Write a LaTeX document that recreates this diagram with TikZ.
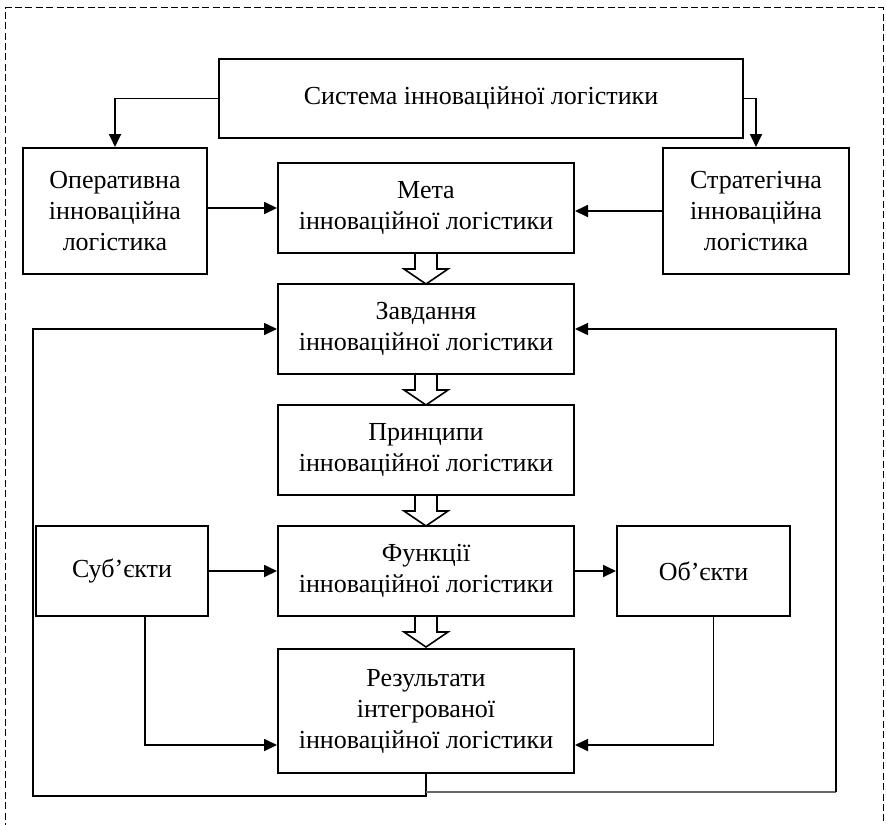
\documentclass[tikz,border=0pt]{standalone}
\usepackage{fontspec}
\setmainfont{Liberation Serif}
\usepackage{tikz}
\usetikzlibrary{arrows.meta,positioning,calc}
\tikzset{
  box/.style={draw,line width=1pt,align=center,inner sep=0pt,font=\fontsize{13}{15.5}\selectfont},
  arr/.style={line width=0.9pt,-{Triangle[length=6.5pt,width=6pt]}},
  back/.style={line width=0.8pt,-{Triangle[length=6.5pt,width=6pt]}},
  hollow/.pic={\draw[line width=0.8pt,fill=white] (-11,0) -- (-11,15) -- (-22,15) -- (0,30) -- (22,15) -- (11,15) -- (11,0);}
}
\begin{document}
\begin{tikzpicture}[x=0.5pt,y=-0.5pt]
      \useasboundingbox (0,0) rectangle (886,824);
      \draw[line width=0.5pt,dash pattern=on 3.5pt off 1.7pt] (5,830) -- (5,8) -- (883,8) -- (883,830);

      \node[box,minimum width=262pt,minimum height=39.5pt] at (481,98.5) (top) {Система інноваційної логістики};
      \node[box,minimum width=92pt,minimum height=63pt] at (115,211) (oper) {Оперативна\\інноваційна\\логістика};
      \node[box,minimum width=93pt,minimum height=63pt] at (756,211) (strat) {Стратегічна\\інноваційна\\логістика};

      \node[box,minimum width=148pt,minimum height=45pt] at (426,208) (meta) {Мета\\інноваційної логістики};
      \node[box,minimum width=148pt,minimum height=45pt] at (426,329) (zavd) {Завдання\\інноваційної логістики};
      \node[box,minimum width=148pt,minimum height=45pt] at (426,450) (princ) {Принципи\\інноваційної логістики};
      \node[box,minimum width=148pt,minimum height=45pt] at (426,571) (func) {Функції\\інноваційної логістики};
      \node[box,minimum width=148pt,minimum height=62pt] at (426,711) (res) {Результати\\інтегрованої\\інноваційної логістики};

      \node[box,minimum width=86pt,minimum height=45pt] at (122,571) (subj) {Суб’єкти};
      \node[box,minimum width=86.5pt,minimum height=45pt] at (703.5,571) (obj) {Об’єкти};

      \draw[arr] (top.west) -| (oper.north);
      \draw[arr] (top.east) -| (strat.north);
      \draw[arr] (oper.east |- meta.west) -- (meta.west);
      \draw[arr] (strat.west) -- (meta.east |- strat.west);

      \pic at (meta.south) {hollow};
      \pic at (zavd.south) {hollow};
      \pic at (princ.south) {hollow};
      \pic at (func.south) {hollow};

      \draw[arr] (subj.east) -- (func.west);
      \draw[arr] (func.east) -- (obj.west);
      \draw[arr] ([xshift=11.5pt]subj.south) |- ([yshift=-17pt]res.west);
      \draw[arr] ([xshift=5pt]obj.south) |- ([yshift=-17pt]res.east);

      \coordinate (fbl) at (33,796);
      \coordinate (fbr) at (836,792);
      \draw[back] (res.south) |- (fbl) |- (zavd.west);
      \draw[line width=0.9pt,black!60] (res.south |- fbr) -- (fbr);
      \draw[back] (fbr) |- (zavd.east);
    \end{tikzpicture}
\end{document}
